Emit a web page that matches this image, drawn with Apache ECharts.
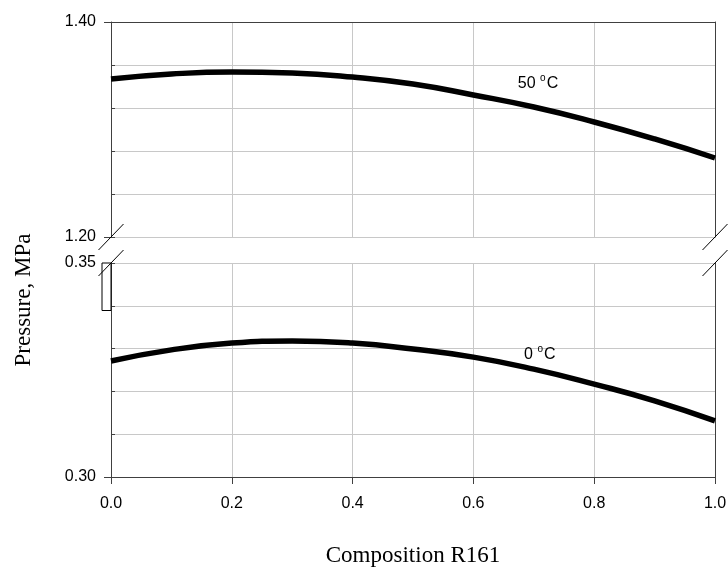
<!DOCTYPE html>
<html><head><meta charset="utf-8">
<script src="https://cdn.jsdelivr.net/npm/echarts@6/dist/echarts.min.js"></script>
<style>html,body{margin:0;padding:0;background:#fff}#c{width:728px;height:568px}</style>
</head><body><div id="c"></div>
<script>
const composition = [0.0, 0.1, 0.2, 0.3, 0.4, 0.5, 0.6, 0.7, 0.8, 0.9, 1.0];
const pressure50C = [1.3470, 1.3516, 1.3535, 1.3526, 1.3488, 1.3423, 1.3321, 1.3209, 1.3070, 1.2912, 1.2735];
const pressure0C  = [0.3271, 0.3297, 0.3313, 0.3318, 0.3313, 0.3299, 0.3280, 0.3252, 0.3217, 0.3178, 0.3131];
const topRange = [1.20, 1.40];
const bottomRange = [0.30, 0.35];
const label50 = {x: 0.707, y: 1.3423, text: '50 ', unit: 'C'};
const label0 = {x: 0.71, y: 0.3285, text: '0 ', unit: 'C'};

const chart = echarts.init(document.getElementById('c'), null, {renderer: 'canvas'});
const sans = 'Liberation Sans, Arial, sans-serif';
const serif = 'Liberation Serif, Times New Roman, serif';
const gridColor = '#c8c8c8';
const axisColor = '#404040';

function pairs(xs, ys) { return xs.map((x, i) => [x, ys[i]]); }

const grids = [
  {left: 111, top: 22, width: 604, height: 215, containLabel: false, outerBoundsMode: 'none'},
  {left: 111, top: 263, width: 604, height: 214, containLabel: false, outerBoundsMode: 'none'}
];

const xAxes = [
  {gridIndex: 0, type: 'value', min: 0, max: 1, interval: 0.2, position: 'bottom',
   axisLine: {show: false}, axisTick: {show: false}, axisLabel: {show: false},
   splitLine: {show: true, lineStyle: {color: gridColor, width: 1}}},
  {gridIndex: 0, type: 'value', min: 0, max: 1, interval: 0.2, position: 'top',
   axisLine: {show: true, lineStyle: {color: axisColor, width: 1}}, axisTick: {show: false},
   axisLabel: {show: false}, splitLine: {show: false}},
  {gridIndex: 1, type: 'value', min: 0, max: 1, interval: 0.2, position: 'bottom',
   axisLine: {show: true, onZero: false, lineStyle: {color: axisColor, width: 1}},
   axisTick: {show: true, inside: false, length: 7, lineStyle: {color: axisColor}},
   axisLabel: {show: true, fontFamily: sans, fontSize: 16, color: '#000', margin: 19,
     formatter: v => v.toFixed(1)},
   splitLine: {show: true, lineStyle: {color: gridColor, width: 1}}}
];

function yAxesFor(g, range, minor, major) {
  return [
    {gridIndex: g, type: 'value', min: range[0], max: range[1], interval: minor, position: 'left',
     axisLine: {show: true, onZero: false, lineStyle: {color: axisColor, width: 1}},
     axisTick: {show: true, inside: true, length: 4, lineStyle: {color: axisColor}},
     axisLabel: {show: false},
     splitLine: {show: true, lineStyle: {color: gridColor, width: 1}}},
    {gridIndex: g, type: 'value', min: range[0], max: range[1], interval: major, position: 'left',
     axisLine: {show: false}, axisTick: {show: true, inside: false, length: 7, lineStyle: {color: axisColor}},
     axisLabel: {show: true, fontFamily: sans, fontSize: 16, color: '#000', margin: 15,
       formatter: v => v.toFixed(2)},
     splitLine: {show: false}},
    {gridIndex: g, type: 'value', min: range[0], max: range[1], interval: major, position: 'right',
     axisLine: {show: true, onZero: false, lineStyle: {color: axisColor, width: 1}},
     axisTick: {show: false}, axisLabel: {show: false}, splitLine: {show: false}}
  ];
}

const yAxes = yAxesFor(0, topRange, 0.04, 0.2).concat(yAxesFor(1, bottomRange, 0.01, 0.05));

chart.setOption({
  animation: false,
  backgroundColor: '#fff',
  grid: grids,
  xAxis: xAxes,
  yAxis: yAxes,
  series: [
    {type: 'line', xAxisIndex: 0, yAxisIndex: 0, data: pairs(composition, pressure50C),
     smooth: 0.5, showSymbol: false, clip: false,
     lineStyle: {color: '#000', width: 5.5}},
    {type: 'line', xAxisIndex: 2, yAxisIndex: 3, data: pairs(composition, pressure0C),
     smooth: 0.5, showSymbol: false, clip: false,
     lineStyle: {color: '#000', width: 5.5}}
  ]
});

// break marks and decorations located from the axes
const pTopL = chart.convertToPixel({xAxisIndex: 0, yAxisIndex: 0}, [0, topRange[0]]);
const pTopR = chart.convertToPixel({xAxisIndex: 0, yAxisIndex: 0}, [1, topRange[0]]);
const pBotL = chart.convertToPixel({xAxisIndex: 2, yAxisIndex: 3}, [0, bottomRange[1]]);
const pBotR = chart.convertToPixel({xAxisIndex: 2, yAxisIndex: 3}, [1, bottomRange[1]]);
const pRectB = chart.convertToPixel({xAxisIndex: 2, yAxisIndex: 3}, [0, 0.3389]);
const p50 = chart.convertToPixel({xAxisIndex: 0, yAxisIndex: 0}, [label50.x, label50.y]);
const p0 = chart.convertToPixel({xAxisIndex: 2, yAxisIndex: 3}, [label0.x, label0.y]);
const pMid = chart.convertToPixel({xAxisIndex: 2, yAxisIndex: 3}, [0.5, bottomRange[0]]);
function slash(p) {
  return {type: 'line', shape: {x1: p[0] - 12.5, y1: p[1] + 13, x2: p[0] + 12.5, y2: p[1] - 13},
          style: {stroke: '#000', lineWidth: 1}, z: 100};
}
function tempLabel(p, o) {
  return {type: 'text', x: p[0], y: p[1], z: 100,
    style: {
      text: '{a|' + o.text + '}{s|o}{a|' + o.unit + '}',
      align: 'center', verticalAlign: 'middle',
      rich: {
        a: {fontFamily: sans, fontSize: 16, fill: '#000', color: '#000'},
        s: {fontFamily: sans, fontSize: 10, fill: '#000', color: '#000', padding: [0, 1, 11, 0]}
      }
    }};
}
chart.setOption({
  graphic: [
    slash(pTopL), slash(pTopR), slash(pBotL), slash(pBotR),
    {type: 'rect', shape: {x: pBotL[0] - 9, y: pBotL[1], width: 9, height: pRectB[1] - pBotL[1]},
     style: {fill: '#fff', stroke: '#000', lineWidth: 1}, z: 90},
    tempLabel(p50, label50), tempLabel(p0, label0),
    {type: 'text', x: pMid[0], y: pMid[1] + 79,
     style: {text: 'Composition R161', fontFamily: serif, fontSize: 23, fill: '#000',
             align: 'center', verticalAlign: 'middle'}},
    {type: 'text', x: 24, y: 300, rotation: Math.PI / 2,
     style: {text: 'Pressure, MPa', fontFamily: serif, fontSize: 23, fill: '#000',
             align: 'center', verticalAlign: 'middle'}}
  ]
});
</script></body></html>
